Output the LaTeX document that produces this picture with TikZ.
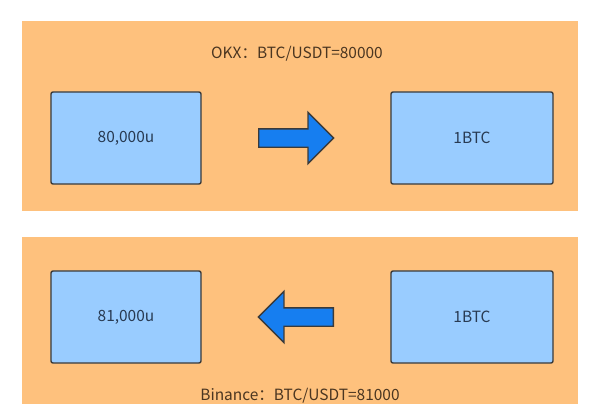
\documentclass[tikz,border=0pt]{standalone}
\usepackage{fontspec}
\setmainfont{Noto Sans CJK SC}
\usetikzlibrary{shapes.arrows}

\definecolor{panelorange}{RGB}{254,193,125}
\definecolor{boxblue}{RGB}{153,204,255}
\definecolor{arrowblue}{RGB}{22,126,240}
\definecolor{edgegray}{RGB}{58,58,58}
\definecolor{labelbrown}{RGB}{75,54,33}
\definecolor{boxtext}{RGB}{40,58,82}

\begin{document}
\begin{tikzpicture}[x=0.025cm, y=-0.025cm,
    panel/.style={fill=panelorange, draw=none},
    coin/.style={draw=edgegray, line width=1pt, fill=boxblue, rounded corners=1.5pt,
      minimum height=2.3cm, text=boxtext, font=\fontsize{11}{13}\selectfont},
    swap/.style={single arrow, draw=edgegray, line width=1pt, fill=arrowblue,
      minimum height=1.875cm, inner xsep=0pt, inner ysep=0.2125cm,
      single arrow head extend=0.4125cm, single arrow head indent=0pt},
    rate/.style={text=labelbrown, font=\fontsize{11}{13}\selectfont}]
        \useasboundingbox (0, 0) rectangle (600, 404);
        \fill[white] (0, 0) rectangle (600, 404);

        \fill[panel] (22, 21) rectangle (578, 211);
        \node[rate] (okx) at (297, 54) {OKX：BTC/USDT=80000};
        \node[coin, minimum width=3.75cm] (U1) at (126, 138) {80,000u};
        \node[coin, minimum width=4.05cm] (B1) at (472, 138) {1BTC};
        \node[swap, anchor=tail] (buy) at (258, 138) {};

        \fill[panel] (22, 237) rectangle (578, 404);
        \node[coin, minimum width=3.75cm] (U2) at (126, 317) {81,000u};
        \node[coin, minimum width=4.05cm] (B2) at (472, 317) {1BTC};
        \node[swap, shape border rotate=180, anchor=tail] (sell) at (334, 317) {};
        \node[rate] (binance) at (300, 396) {Binance：BTC/USDT=81000};
      \end{tikzpicture}
\end{document}
